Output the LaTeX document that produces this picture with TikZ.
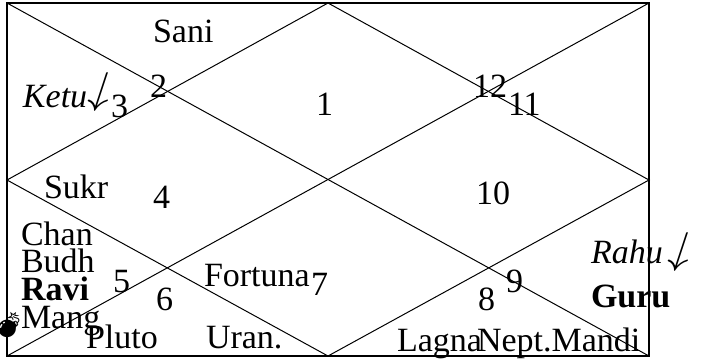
\documentclass[tikz,border=0pt]{standalone}
\usepackage{fontspec}
\setmainfont{Liberation Serif}
\newfontfamily\emo{Noto Emoji}
\newfontfamily\lmm{latinmodern-math.otf}
\begin{document}
\begin{tikzpicture}[x=1pt,y=-1pt,
  lbl/.style={anchor=base west,inner sep=0pt,outer sep=0pt,font=\fontsize{34}{34}\selectfont},
  arw/.style={anchor=base west,inner sep=0pt,outer sep=0pt,transform shape,font=\lmm\fontsize{44}{44}\selectfont},
  ln/.style={line width=1pt,black}]
\useasboundingbox[fill=white] (0,0) rectangle (710,360);
\coordinate (tl) at (7,3);
\coordinate (tr) at (649,3);
\coordinate (bl) at (7,356);
\coordinate (br) at (649,356);
\coordinate (mt) at (328,3);
\coordinate (mb) at (328,356);
\coordinate (ml) at (7,180);
\coordinate (mr) at (649,180);
\draw[ln,line width=1.4pt] (tl) rectangle (br);
\draw[ln] (tl) -- (br);
\draw[ln] (bl) -- (tr);
\draw[ln] (mt) -- (mr) -- (mb) -- (ml) -- cycle;
% house numbers
\node[lbl] (h1) at (316,115) {1};
\node[lbl] (h2) at (150,97) {2};
\node[lbl] (h3) at (111,117) {3};
\node[lbl] (h4) at (153,208) {4};
\node[lbl] (h5) at (113,292) {5};
\node[lbl] (h6) at (156,310) {6};
\node[lbl] (h7) at (311,295) {7};
\node[lbl] (h8) at (478,310) {8};
\node[lbl] (h9) at (506,292) {9};
\node[lbl] (h10) at (476,204) {10};
\node[lbl] (h11) at (508,115) {11};
\node[lbl] (h12) at (473,97) {12};
% planets
\node[lbl] (sani) at (153,42) {Sani};
\node[lbl] (ketu) at (23,107) {\itshape Ketu};
\begin{scope}[shift={(86,103)},xslant=0.33]
\node[arw] (ketuarw) at (0,0) {↓};
\end{scope}
\node[lbl] (sukr) at (44,198) {Sukr};
\node[lbl] (chan) at (21,245) {Chan};
\node[lbl] (budh) at (21,272) {Budh};
\node[lbl] (ravi) at (21,300) {\bfseries Ravi};
\node[lbl] (mang) at (21,328) {Mang};
\node[lbl] (pluto) at (86,348) {Pluto};
\node[lbl] (fortuna) at (204,286) {Fortuna};
\node[lbl] (uran) at (206,348) {Uran.};
\node[lbl] (lagna) at (397,351) {Lagna};
\node[lbl] (nept) at (477,351) {Nept.Mandi};
\node[lbl] (rahu) at (591,263) {\itshape Rahu};
\begin{scope}[shift={(666,263)},xslant=0.33]
\node[arw] (rahuarw) at (0,0) {↓};
\end{scope}
\node[lbl] (guru) at (591,307) {\bfseries Guru};
\node[anchor=base west,inner sep=0pt,font=\emo\fontsize{25}{25}\selectfont] (bomb) at (-7,333) {💣};
\end{tikzpicture}
\end{document}
